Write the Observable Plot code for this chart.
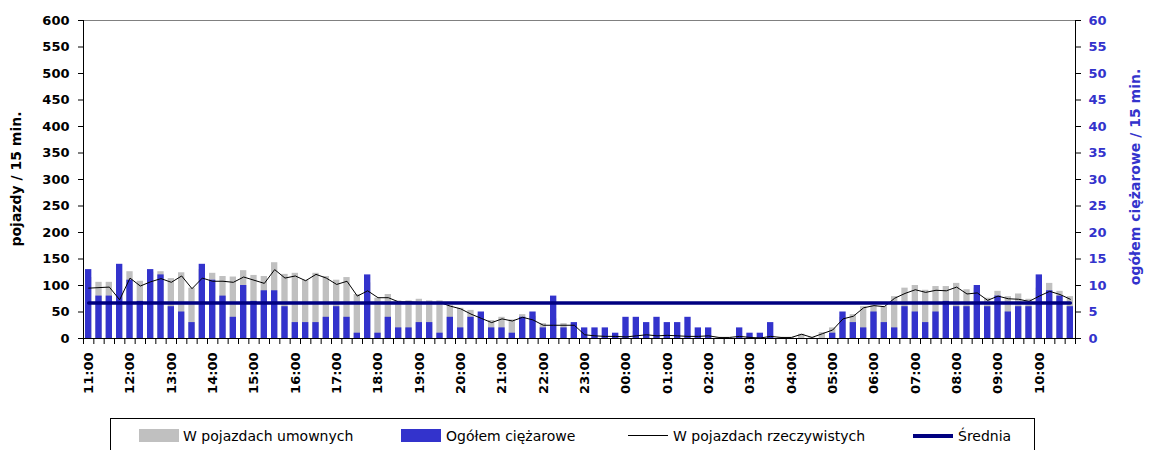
<!DOCTYPE html>
<html>
<head>
<meta charset="utf-8">
<script src="https://cdn.jsdelivr.net/npm/d3@7"></script>
<script src="https://cdn.jsdelivr.net/npm/@observablehq/plot@0.6"></script>
<style>
  body { margin: 0; background: #fff; font-family: "DejaVu Sans", sans-serif; }
  #wrap { position: relative; width: 1150px; height: 450px; overflow: hidden; background: #fff; }
  #chart svg { display: block; }
  #legend { position: absolute; left: 110px; top: 418px; width: 925px; height: 40px; border: 1px solid #000; box-sizing: border-box; }
  .sw { position: absolute; }
  .lt { position: absolute; top: 9px; font-size: 14px; color: #000; white-space: nowrap; line-height: 16px; }
</style>
</head>
<body>
<div id="wrap">
  <div id="chart"></div>
  <div id="legend">
    <div class="sw" style="left:28px;top:10px;width:40px;height:13px;background:#c0c0c0;"></div>
    <div class="lt" style="left:72px;">W pojazdach umownych</div>
    <div class="sw" style="left:290px;top:10px;width:40px;height:13px;background:#3333cc;"></div>
    <div class="lt" style="left:335px;">Ogółem ciężarowe</div>
    <div class="sw" style="left:517px;top:16px;width:40px;height:1px;background:#000;"></div>
    <div class="lt" style="left:562px;">W pojazdach rzeczywistych</div>
    <div class="sw" style="left:802px;top:15px;width:40px;height:3.5px;background:#000080;"></div>
    <div class="lt" style="left:847px;">Średnia</div>
  </div>
</div>
<script>
// Category tick labels (every hour; one bar per 15 minutes)
const hourLabels = ["11:00","12:00","13:00","14:00","15:00","16:00","17:00","18:00","19:00","20:00","21:00","22:00",
                    "23:00","00:00","01:00","02:00","03:00","04:00","05:00","06:00","07:00","08:00","09:00","10:00"];

// W pojazdach umownych (left axis)
const umowne = [115,106,106,90,126,108,125,126,113,124,
                95,130,123,117,116,128,119,117,143,121,
                123,110,123,117,110,115,83,105,76,83,
                71,71,74,71,71,62,57,53,45,34,
                40,35,45,42,28,37,28,27,7,5,
                5,5,4,13,11,9,9,7,7,5,
                6,2,2,5,3,2,6,2,2,8,
                2,11,20,40,45,60,62,60,79,95,
                100,91,98,98,104,92,95,76,89,79,
                84,74,95,104,89,79];

// Ogółem ciężarowe (right axis, 0-60)
const ciezarowe = [13,8,8,14,11,7,13,12,6,5,
                   3,14,11,8,4,10,7,9,9,6,
                   3,3,3,4,6,4,1,12,1,4,
                   2,2,3,3,1,4,2,4,5,2,
                   2,1,4,5,2,8,2,3,2,2,
                   2,1,4,4,3,4,3,3,4,2,
                   2,0,0,2,1,1,3,0,0,0,
                   0,0,1,5,3,2,5,3,2,6,
                   5,3,5,7,6,6,10,6,8,5,
                   6,6,12,9,8,6];

// W pojazdach rzeczywistych (left axis)
const rzeczywiste = [95,96,97,73,114,99,107,113,106,118,
                     94,114,108,108,106,116,110,104,130,114,
                     118,109,121,114,102,108,80,90,77,77,
                     69,69,68,68,68,61,56,46,38,30,
                     37,33,40,35,25,25,25,25,7,5,
                     4,4,3,5,7,5,6,5,4,4,
                     5,2,2,4,2,1,4,2,2,8,
                     2,9,16,37,42,58,62,60,76,85,
                     92,87,91,90,97,84,86,72,80,75,
                     74,70,80,89,83,74];

// Średnia (left axis)
const srednia = 67;

// Axis ticks
const leftTicks = [0,50,100,150,200,250,300,350,400,450,500,550,600];
const rightTicks = [0,5,10,15,20,25,30,35,40,45,50,55,60];
const rightScale = 10; // right axis 0-60 corresponds to left 0-600

const n = rzeczywiste.length;
const data = d3.range(n).map(i => ({
  i,
  umowne: umowne[i],
  ciezarowe: ciezarowe[i],
  rzeczywiste: rzeczywiste[i],
  srednia
}));

const BLUE = "#3333cc";

const chart = Plot.plot({
  width: 1150,
  height: 414,
  marginLeft: 83,
  marginRight: 75,
  marginTop: 20,
  marginBottom: 76,
  x: { type: "linear", domain: [0, n] },
  y: { domain: [0, 600] },
  style: { fontFamily: "DejaVu Sans", fontWeight: "bold", fontSize: "13px", color: "#000", background: "#fff", overflow: "visible" },
  marks: [
    Plot.rectY(data, { x1: "i", x2: d => d.i + 1, y1: 0, y2: "umowne", fill: "#c0c0c0", insetLeft: 2, insetRight: 2 }),
    Plot.rectY(data, { x1: "i", x2: d => d.i + 1, y1: 0, y2: d => d.ciezarowe * rightScale, fill: BLUE, insetLeft: 2, insetRight: 2 }),
    Plot.line(data, { x: d => d.i + 0.5, y: "rzeczywiste", stroke: "#000", strokeWidth: 1 }),
    Plot.line(data, { x: d => d.i + 0.5, y: "srednia", stroke: "#000080", strokeWidth: 3.5 }),
    Plot.ruleY([600], { stroke: "#808080", strokeWidth: 1 }),
    Plot.ruleY([0], { stroke: "#000", strokeWidth: 1 }),
    Plot.ruleX([0], { stroke: "#000", strokeWidth: 1 }),
    Plot.ruleX([n], { stroke: "#000", strokeWidth: 1 }),
    Plot.axisY({ anchor: "left", ticks: leftTicks, tickSize: 5, tickPadding: 9, label: null, stroke: "#000", fill: "#000" }),
    Plot.axisY({ anchor: "right", ticks: rightTicks.map(t => t * rightScale), tickFormat: d => String(d / rightScale), tickSize: 5, tickPadding: 8, label: null, stroke: "#000", fill: BLUE }),
    Plot.axisX({ ticks: d3.range(0, n + 1), tickSize: 6, tickFormat: () => "", label: null, stroke: "#000" }),
    Plot.axisX({ ticks: hourLabels.map((_, k) => k * 4 + 0.5), tickFormat: d => hourLabels[Math.round((d - 0.5) / 4)], tickSize: 0, tickPadding: 14, tickRotate: -90, label: null, fill: "#000" })
  ]
});

document.getElementById("chart").appendChild(chart);

const svg = d3.select(chart);
svg.append("text")
  .attr("transform", "translate(21,179) rotate(-90)")
  .attr("text-anchor", "middle")
  .attr("font-family", "DejaVu Sans")
  .attr("font-weight", "bold")
  .attr("font-size", 14)
  .attr("fill", "#000")
  .text("pojazdy / 15 min.");
svg.append("text")
  .attr("transform", "translate(1140,177) rotate(-90)")
  .attr("text-anchor", "middle")
  .attr("font-family", "DejaVu Sans")
  .attr("font-weight", "bold")
  .attr("font-size", 14)
  .attr("fill", BLUE)
  .text("ogółem ciężarowe / 15 min.");
</script>
</body>
</html>
